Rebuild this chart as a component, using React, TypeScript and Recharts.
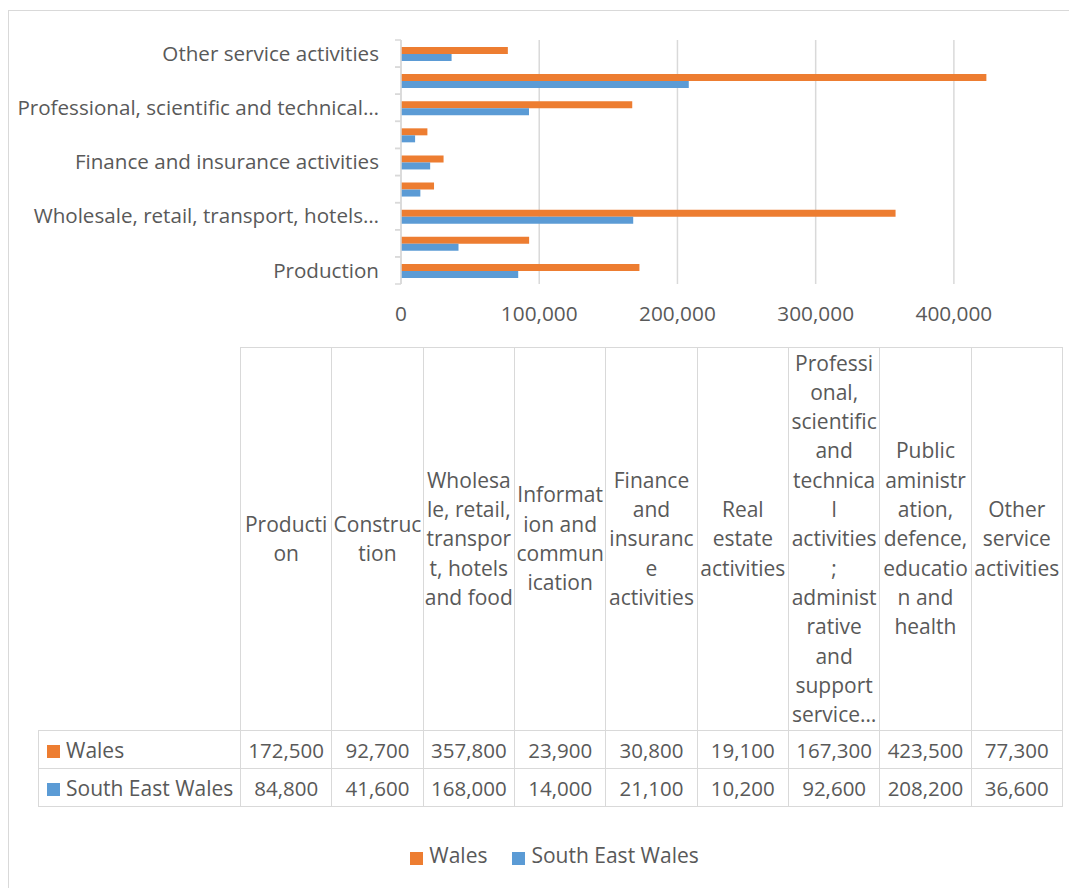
import { Bar, BarChart, CartesianGrid, Legend, XAxis, YAxis } from "recharts";

const categories = [
  "Production",
  "Construction",
  "Wholesale, retail, transport, hotels and food",
  "Information and communication",
  "Finance and insurance activities",
  "Real estate activities",
  "Professional, scientific and technical activities; administrative and support service activities",
  "Public aministration, defence, education and health",
  "Other service activities",
];

// only every other category gets a label on the axis
const axisLabels = [
  "Production",
  "",
  "Wholesale, retail, transport, hotels…",
  "",
  "Finance and insurance activities",
  "",
  "Professional, scientific and technical…",
  "",
  "Other service activities",
];

// header text of the data table, wrapped as in the original
const headerLines = [
  "Producti\non",
  "Construc\ntion",
  "Wholesa\nle, retail,\ntranspor\nt, hotels\nand food",
  "Informat\nion and\ncommun\nication",
  "Finance\nand\ninsuranc\ne\nactivities",
  "Real\nestate\nactivities",
  "Professi\nonal,\nscientific\nand\ntechnica\nl\nactivities\n;\nadminist\nrative\nand\nsupport\nservice…",
  "Public\naministr\nation,\ndefence,\neducatio\nn and\nhealth",
  "Other\nservice\nactivities",
];

const wales = [172500, 92700, 357800, 23900, 30800, 19100, 167300, 423500, 77300];
const southEastWales = [84800, 41600, 168000, 14000, 21100, 10200, 92600, 208200, 36600];
const xTicks = [0, 100000, 200000, 300000, 400000];
const X_MAX = 450000;
const seriesOrder = ["wales", "sew"];

const ORANGE = "#ED7D31";
const BLUE = "#5B9BD5";
const TEXT = "#595959";
const LINE = "#d9d9d9";

const data = categories.map((name, i) => ({
  name,
  wales: wales[i],
  sew: southEastWales[i],
}));

const fmt = (v: number) => v.toLocaleString("en-US");

const CategoryTick = (props: any) => {
  const { x, y, payload } = props;
  const half = payload.offset || 13.5;
  const label = axisLabels[categories.indexOf(payload.value)];
  return (
    <g>
      <line x1={x - 6} x2={x} y1={y - half} y2={y - half} stroke={LINE} strokeWidth={1.5} />
      <line x1={x - 6} x2={x} y1={y + half} y2={y + half} stroke={LINE} strokeWidth={1.5} />
      <text x={x - 22} y={y} dy="0.35em" textAnchor="end" fill={TEXT} fontSize={20.6}>
        {label}
      </text>
    </g>
  );
};

const cell = {
  border: `1px solid ${LINE}`,
  textAlign: "center" as const,
  padding: 0,
  color: TEXT,
};

const rows = [
  { name: "Wales", color: ORANGE, values: wales },
  { name: "South East Wales", color: BLUE, values: southEastWales },
];

const DataTable = () => (
  <table
    style={{
      position: "absolute",
      left: 29,
      top: 336,
      width: 1024,
      borderCollapse: "collapse",
      tableLayout: "fixed",
      fontSize: 20.5,
    }}
  >
    <colgroup>
      <col style={{ width: 202 }} />
      {categories.map((c) => (
        <col key={c} style={{ width: 91.33 }} />
      ))}
    </colgroup>
    <tbody>
      <tr style={{ height: 383 }}>
        <td style={{ ...cell, borderTop: "none", borderLeft: "none" }} />
        {headerLines.map((h, i) => (
          <td key={i} style={{ ...cell, whiteSpace: "pre", lineHeight: "29.3px", fontSize: 21 }}>
            {h}
          </td>
        ))}
      </tr>
      {rows.map((r) => (
        <tr key={r.name} style={{ height: 38 }}>
          <td style={{ ...cell, textAlign: "left", paddingLeft: 8, whiteSpace: "nowrap", fontSize: 21 }}>
            <span
              style={{
                display: "inline-block",
                width: 13,
                height: 13,
                background: r.color,
                marginRight: 6,
              }}
            />
            {r.name}
          </td>
          {r.values.map((v, i) => (
            <td key={i} style={cell}>
              {fmt(v)}
            </td>
          ))}
        </tr>
      ))}
    </tbody>
  </table>
);

export default function App() {
  return (
    <div
      style={{
        position: "relative",
        marginTop: 2,
        width: 1068,
        height: 878,
        borderTop: `1px solid ${LINE}`,
        borderLeft: `1px solid ${LINE}`,
        fontFamily: "'Open Sans', sans-serif",
        overflow: "hidden",
        background: "#fff",
      }}
    >
      <BarChart
        width={1068}
        height={877}
        data={data}
        layout="vertical"
        barSize={7}
        barGap={0}
        margin={{ top: 29, right: 54, bottom: 564, left: 0 }}
      >
        <CartesianGrid
          horizontal={false}
          stroke={LINE}
          strokeWidth={1.5}
          verticalCoordinatesGenerator={({ offset }: any) =>
            xTicks.map((t) => offset.left + (t / X_MAX) * offset.width)
          }
        />
        <XAxis
          type="number"
          domain={[0, X_MAX]}
          ticks={xTicks}
          tickFormatter={fmt}
          axisLine={false}
          tickLine={false}
          tickSize={0}
          tickMargin={22}
          height={40}
          tick={{ fill: TEXT, fontSize: 20.8 }}
        />
        <YAxis
          type="category"
          dataKey="name"
          reversed
          width={392}
          interval={0}
          tickSize={0}
          tickMargin={0}
          tickLine={false}
          axisLine={{ stroke: LINE, strokeWidth: 1.5 }}
          tick={<CategoryTick />}
        />
        <Bar dataKey="wales" name="Wales" fill={ORANGE} isAnimationActive={false} />
        <Bar dataKey="sew" name="South East Wales" fill={BLUE} isAnimationActive={false} />
        <Legend
          verticalAlign="middle"
          align="center"
          layout="horizontal"
          iconType="square"
          iconSize={13}
          itemSorter={(e: any) => seriesOrder.indexOf(e.dataKey)}
          wrapperStyle={{ top: 830, left: 36, width: 1044 }}
          formatter={(v) => (
            <span style={{ color: TEXT, fontSize: 21, marginLeft: 2, marginRight: 15 }}>{v}</span>
          )}
        />
      </BarChart>
      <DataTable />
    </div>
  );
}
